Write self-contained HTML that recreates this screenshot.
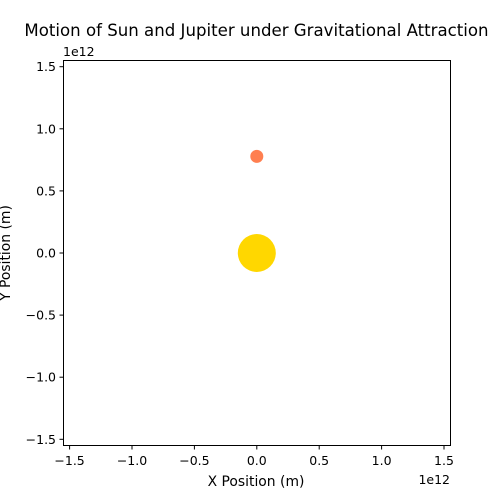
<!DOCTYPE html>
<html><head><meta charset="utf-8"><style>
body{margin:0;background:#fff}
svg{display:block;font-family:"DejaVu Sans","Liberation Sans",sans-serif}
</style></head><body>
<svg id="c" width="500" height="500" viewBox="0 0 500 500">
<rect x="0" y="0" width="500" height="500" fill="#fff"/>
<text x="256.5" y="36" font-size="16.6" text-anchor="middle">Motion of Sun and Jupiter under Gravitational Attraction</text>
<g id="grid"></g>
<g id="marks"></g>
<rect x="63.5" y="60.5" width="387" height="385" fill="none" stroke="#000" stroke-width="1"/>
<text x="256" y="486" font-size="13.9" text-anchor="middle">X Position (m)</text>
<text x="0" y="0" font-size="13.9" text-anchor="middle" transform="translate(10,253) rotate(-90)">Y Position (m)</text>
<text x="63" y="56" font-size="12.5">1e12</text>
<text x="450" y="484" font-size="12.5" text-anchor="end">1e12</text>
</svg>
<script>
const xTicks=[-1.5,-1.0,-0.5,0.0,0.5,1.0,1.5];
const yTicks=[-1.5,-1.0,-0.5,0.0,0.5,1.0,1.5];
const tickLabels=["\u22121.5","\u22121.0","\u22120.5","0.0","0.5","1.0","1.5"];
const bodyNames=["sun","jupiter"];
const bodyX=[0.0,0.0];
const bodyY=[0.0,0.778];
const bodyR=[19,6.5];
const bodyColors=["#FFD700","#FF7F50"];
const NS="http://www.w3.org/2000/svg";
const xs=v=>256.8+v*124.8;
const ys=v=>253.0-v*124.2;
const g=document.getElementById('grid'),m=document.getElementById('marks');
function mk(t,a,p){const e=document.createElementNS(NS,t);for(const k in a)e.setAttribute(k,a[k]);p.appendChild(e);return e;}
xTicks.forEach((v,i)=>{
 const l=mk('line',{x1:xs(v),x2:xs(v),y1:445.5,y2:449.5,stroke:'#000'},g);
 
 
 const t=mk('text',{x:xs(v),y:465,'font-size':12.5,'text-anchor':'middle'},g);t.textContent=tickLabels[i];
 
 
});
yTicks.forEach((v,i)=>{
 const l=mk('line',{x1:59.5,x2:63.5,y1:ys(v),y2:ys(v),stroke:'#000'},g);
 
 
 const t=mk('text',{x:56,y:ys(v)+4.5,'font-size':12.5,'text-anchor':'end'},g);t.textContent=tickLabels[i];
 
 
});
bodyNames.forEach((n,i)=>{
 const c=mk('circle',{cx:xs(bodyX[i]),cy:ys(bodyY[i]),r:bodyR[i],fill:bodyColors[i]},m);
 
 
});
</script>
</body></html>
